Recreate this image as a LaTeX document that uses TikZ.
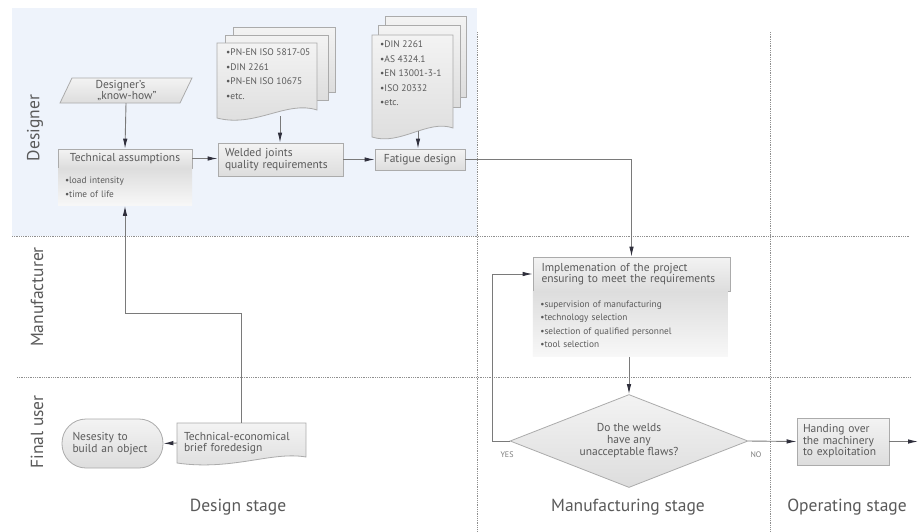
\documentclass[tikz,border=0pt]{standalone}
\usepackage{fontspec}
\setmainfont{PT Sans}
\usetikzlibrary{arrows.meta,shapes.geometric,calc}
\definecolor{lanebg}{HTML}{EEF3FB}
\definecolor{linec}{HTML}{7A7A7A}
\definecolor{boxline}{HTML}{ABABAB}
\definecolor{boxtop}{HTML}{F3F3F3}
\definecolor{boxbot}{HTML}{DDDDDD}
\definecolor{txt}{HTML}{5A5A5A}
\definecolor{arrowc}{HTML}{2F2F3C}
\definecolor{dotc}{HTML}{8F8F8F}
\tikzset{
  box/.style={draw=boxline, top color=boxtop, bottom color=boxbot, line width=0.8pt,
    text=txt, font=\fontsize{11.5}{11.5}\selectfont, inner sep=0pt},
  subarea/.style={top color=boxbot, bottom color=boxtop!60!white, text=txt,
    font=\fontsize{9.3}{13.5}\selectfont, inner sep=0pt, align=left},
  page/.style={draw=boxline, top color=boxtop, bottom color=boxbot, line width=0.8pt},
  doctext/.style={text=txt, font=\fontsize{9.5}{14.5}\selectfont, align=left, inner sep=0pt},
  arr/.style={draw=linec, line width=0.9pt, -{Latex[length=10pt,width=4.5pt,color=arrowc]}},
  lane/.style={draw=dotc, line width=0.9pt, dash pattern=on 0.9pt off 0.9pt},
  lanelabel/.style={rotate=90, text=txt, font=\fontsize{17.5}{17.5}\selectfont},
  stagelabel/.style={text=txt, font=\fontsize{17.5}{17.5}\selectfont},
  small/.style={text=txt!80, font=\fontsize{8}{8}\selectfont}
}
\begin{document}
\begin{tikzpicture}[x=1pt,y=-1pt]
\useasboundingbox (0,0) rectangle (920,531);
\fill[white] (0,0) rectangle (920,531);
% designer lane background
\fill[lanebg] (12,8) rectangle (477,236);
% lane separators
\draw[lane] (12,236) -- (910,236);
\draw[lane] (17,377) -- (910,377);
\draw[lane] (477,32) -- (477,531);
\draw[lane] (770,32) -- (770,531);

% lane labels
\node[lanelabel] (ldes) at (35,128) {Designer};
\node[lanelabel] (lman) at (37,297) {Manufacturer};
\node[lanelabel] (lfin) at (37,432) {Final user};
% stage labels
\node[stagelabel] (sdes) at (238,507) {Design stage};
\node[stagelabel] (sman) at (628,507) {Manufacturing stage};
\node[stagelabel] (sop) at (847,507) {Operating stage};

% know-how parallelogram
\draw[page] (72,78) -- (192,78) -- (180,103) -- (60,103) -- cycle;
\node[text=txt, font=\fontsize{11.5}{11.5}\selectfont, align=left, minimum width=120pt, minimum height=25pt, inner sep=0pt] (kh) at (126,90.5) {Designer's\\[-1pt]\,„know-how''};

% technical assumptions
\node[box, minimum width=134pt, minimum height=19pt] (ta) at (125,158.5) {Technical assumptions};
\node[subarea, anchor=north, minimum width=134pt, minimum height=37pt, text width=120pt] (tasub) at (ta.south) {•load intensity\\•time of life};

% document stack 1
\draw[page] (233,27) rectangle (335,92);
\draw[page] (225,35) rectangle (328,100);
\draw[page] (217,43) -- (317,43) -- (317,110) .. controls (287,100) and (255,128) .. (217,118) -- cycle;
\node[doctext, anchor=north west] (doc1) at (226,49) {•PN-EN ISO 5817-05\\•DIN 2261\\•PN-EN ISO 10675\\•etc.};
\coordinate (doc1b) at (280,116);

% welded joints
\node[box, minimum width=125pt, minimum height=33pt, text width=111pt, align=left] (wj) at (280.5,159.5) {Welded joints\\quality requirements};

% document stack 2
\draw[page] (385,16) rectangle (466,97);
\draw[page] (378,25) rectangle (460,107);
\draw[page] (372,35) -- (453,35) -- (453,128) .. controls (428,119) and (400,146) .. (372,137) -- cycle;
\node[doctext, anchor=north west] (doc2) at (380,41) {•DIN 2261\\•AS 4324.1\\•EN 13001-3-1\\•ISO 20332\\•etc.};
\coordinate (doc2b) at (418,131);

% fatigue design
\node[box, minimum width=90pt, minimum height=21pt] (fd) at (420,159.5) {Fatigue design};

% implementation
\node[box, minimum width=197pt, minimum height=34pt, text width=180pt, align=left] (im) at (631.5,274) {Implemenation of the project\\ensuring to meet the requirements};
\node[subarea, anchor=north west, minimum width=195pt, minimum height=65pt, text width=180pt] (imsub) at (im.south west) {•supervision of manufacturing\\•technology selection\\•selection of qualified personnel\\•tool selection};

% decision diamond
\node[diamond, draw=boxline, top color=boxtop, bottom color=boxbot, line width=0.8pt, minimum width=238pt, minimum height=93pt, aspect=2.56, inner sep=0pt, text=txt, font=\fontsize{11.5}{12}\selectfont, align=center] (dw) at (629,441) {Do the welds\\have any\\unacceptable flaws?};

% handing over
\node[box, minimum width=92pt, minimum height=47pt, text width=80pt, align=left] (ho) at (843,441.5) {Handing over\\the machinery\\to exploitation};
\coordinate (hoend) at (918,441.5);

% final user
\node[box, rounded corners=24pt, minimum width=101pt, minimum height=49pt, text width=80pt, align=left] (ne) at (112.5,443.5) {Nesesity to\\build an object};
\draw[page] (177,423) -- (306,423) -- (306,457) .. controls (272,451) and (232,471) .. (177,463) -- cycle;
\node[text=txt, font=\fontsize{11.5}{11.5}\selectfont, align=left, minimum width=129pt, minimum height=40pt, text width=115pt, inner sep=0pt] (te) at (241.5,443) {Technical-economical\\brief foredesign};

% connectors
\draw[arr] (kh.south) -- (ta.north);
\draw[arr] (ta.east) -- (wj.west |- ta.east);
\draw[arr] (doc1b) -- (wj.north -| doc1b);
\draw[arr] (wj.east) -- (fd.west |- wj.east);
\draw[arr] (doc2b) -- (fd.north -| doc2b);
\draw[arr] (fd.east) -| (im.north);
\draw[arr] (imsub.south -| dw.north) -- (dw.north);
\draw[arr] (dw.west) -- ++(-17,0) |- (im.west);
\draw[arr] (dw.east) -- (ho.west);
\draw[arr] (ho.east) -- (hoend);
\draw[arr] (te.west) -- (ne.east);
\draw[arr] (te.north) -- ++(0,-109) -| (tasub.south);

% yes / no labels
\node[small] (yes) at (507,455) {YES};
\node[small] (no) at (756,455) {NO};
\end{tikzpicture}
\end{document}
